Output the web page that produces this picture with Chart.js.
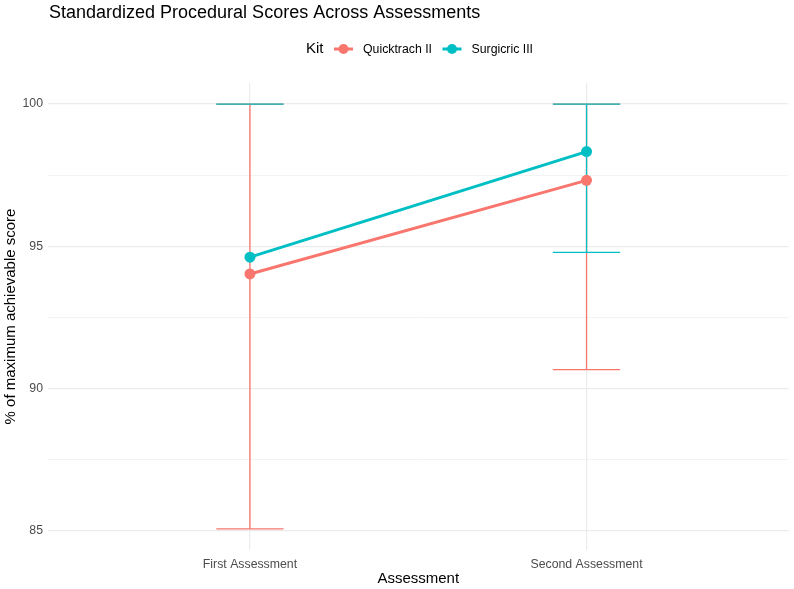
<!DOCTYPE html>
<html>
<head>
<meta charset="utf-8">
<script src="https://cdn.jsdelivr.net/npm/chart.js@4.4.1/dist/chart.umd.min.js"></script>
<style>
  html, body { margin: 0; padding: 0; background: #fff; }
  #wrap { width: 794px; height: 589px; position: relative; }
</style>
</head>
<body>
<div id="wrap"><canvas id="chart-div"></canvas></div>
<script>
// data
var assessments = ['First Assessment', 'Second Assessment'];
var kits = ['Quicktrach II', 'Surgicric III'];
var quicktrachMean = [94.03, 97.32];
var quicktrachLow = [85.07, 90.67];
var quicktrachHigh = [100, 100];
var surgicricMean = [94.62, 98.33];
var surgicricLow = [100, 94.79];
var surgicricHigh = [100, 100];
var yTicks = [85, 87.5, 90, 92.5, 95, 97.5, 100];

var cores = ['#F8766D', '#00BFC4'];
var fonte = '"Liberation Sans", Arial, sans-serif';

function pontos(valores) {
    var r = [];
    for (var i = 0; i < valores.length; i++) {
        r.push({ x: i + 1, y: valores[i] });
    }
    return r;
}

var barras = [
    { low: quicktrachLow, high: quicktrachHigh, cor: cores[0] },
    { low: surgicricLow, high: surgicricHigh, cor: cores[1] }
];

// error bars + title, legend and axis titles
var extras = {
    id: 'extras',
    beforeDatasetsDraw: function (chart) {
        var c = chart.ctx, sx = chart.scales.x, sy = chart.scales.y;
        c.save();
        c.lineWidth = 1.3;
        barras.forEach(function (b) {
            c.strokeStyle = b.cor;
            for (var i = 0; i < b.low.length; i++) {
                var xm = sx.getPixelForValue(i + 1),
                    x0 = sx.getPixelForValue(i + 0.9),
                    x1 = sx.getPixelForValue(i + 1.1),
                    yl = sy.getPixelForValue(b.low[i]),
                    yh = sy.getPixelForValue(b.high[i]);
                c.beginPath();
                c.moveTo(x0, yh); c.lineTo(x1, yh);
                c.moveTo(xm, yh); c.lineTo(xm, yl);
                c.moveTo(x0, yl); c.lineTo(x1, yl);
                c.stroke();
            }
        });
        c.restore();
    },
    afterDraw: function (chart) {
        var c = chart.ctx, area = chart.chartArea;
        c.save();
        c.fillStyle = '#000';
        c.textBaseline = 'alphabetic';
        c.textAlign = 'left';
        c.font = '18px ' + fonte;
        // ggplot aligns the title with the panel
        c.fillText('Standardized Procedural Scores Across Assessments', area.left + 1, 18);

        // legend
        var ly = 49;
        c.font = '15px ' + fonte;
        c.textBaseline = 'middle';
        c.fillText('Kit', 306, ly);
        var posKey = [343.5, 452];
        c.font = '12.3px ' + fonte;
        kits.forEach(function (k, i) {
            var kx = posKey[i];
            c.strokeStyle = cores[i];
            c.lineWidth = 3;
            c.beginPath();
            c.moveTo(kx - 9.5, ly); c.lineTo(kx + 9.5, ly);
            c.stroke();
            c.fillStyle = cores[i];
            c.beginPath();
            c.arc(kx, ly, 5, 0, Math.PI * 2);
            c.fill();
            c.fillStyle = '#000';
            c.fillText(k, kx + 19.5, ly + 1);
        });

        // axis titles
        c.font = '15px ' + fonte;
        c.textAlign = 'center';
        c.fillText('Assessment', (area.left + area.right) / 2, 579);
        c.translate(11, (area.top + area.bottom) / 2);
        c.rotate(-Math.PI / 2);
        c.fillText('% of maximum achievable score', 0, 0);
        c.restore();
    }
};

var config = {
    type: 'scatter',
    data: {
        datasets: [{
            label: kits[0],
            data: pontos(quicktrachMean),
            showLine: true,
            borderColor: cores[0],
            backgroundColor: cores[0],
            borderWidth: 3,
            pointRadius: 5.5,
            pointHoverRadius: 5.5,
            pointBorderWidth: 0
        }, {
            label: kits[1],
            data: pontos(surgicricMean),
            showLine: true,
            borderColor: cores[1],
            backgroundColor: cores[1],
            borderWidth: 3,
            pointRadius: 5.5,
            pointHoverRadius: 5.5,
            pointBorderWidth: 0
        }]
    },
    options: {
        responsive: false,
        animation: false,
        layout: { padding: { top: 83, left: 0, right: 5, bottom: 0 } },
        plugins: {
            legend: { display: false },
            title: { display: false },
            tooltip: { enabled: false }
        },
        scales: {
            x: {
                type: 'linear',
                min: 0.4,
                max: 2.6,
                afterFit: function (s) { s.height = 39; },
                afterBuildTicks: function (s) {
                    s.ticks = [{ value: 1 }, { value: 2 }];
                },
                border: { display: false },
                grid: { color: '#ebebeb', lineWidth: 1.2, drawTicks: false },
                ticks: {
                    padding: 7,
                    color: '#4d4d4d',
                    font: { family: fonte, size: 12.3 },
                    callback: function (v) { return assessments[v - 1]; }
                }
            },
            y: {
                type: 'linear',
                min: 84.33,
                max: 100.74,
                afterFit: function (s) { s.width = 48; },
                afterBuildTicks: function (s) {
                    s.ticks = yTicks.map(function (v) { return { value: v }; });
                },
                border: { display: false },
                grid: {
                    color: '#ebebeb',
                    drawTicks: false,
                    lineWidth: function (ctx) {
                        return ctx.tick && ctx.tick.value % 5 === 0 ? 1.2 : 0.6;
                    }
                },
                ticks: {
                    padding: 5,
                    color: '#4d4d4d',
                    font: { family: fonte, size: 12.3 },
                    callback: function (v) { return v % 5 === 0 ? String(v) : ''; }
                }
            }
        }
    },
    plugins: [extras]
};

var canvas = document.getElementById('chart-div');
canvas.width = 794;
canvas.height = 589;
new Chart(canvas.getContext('2d'), config);
</script>
</body>
</html>
